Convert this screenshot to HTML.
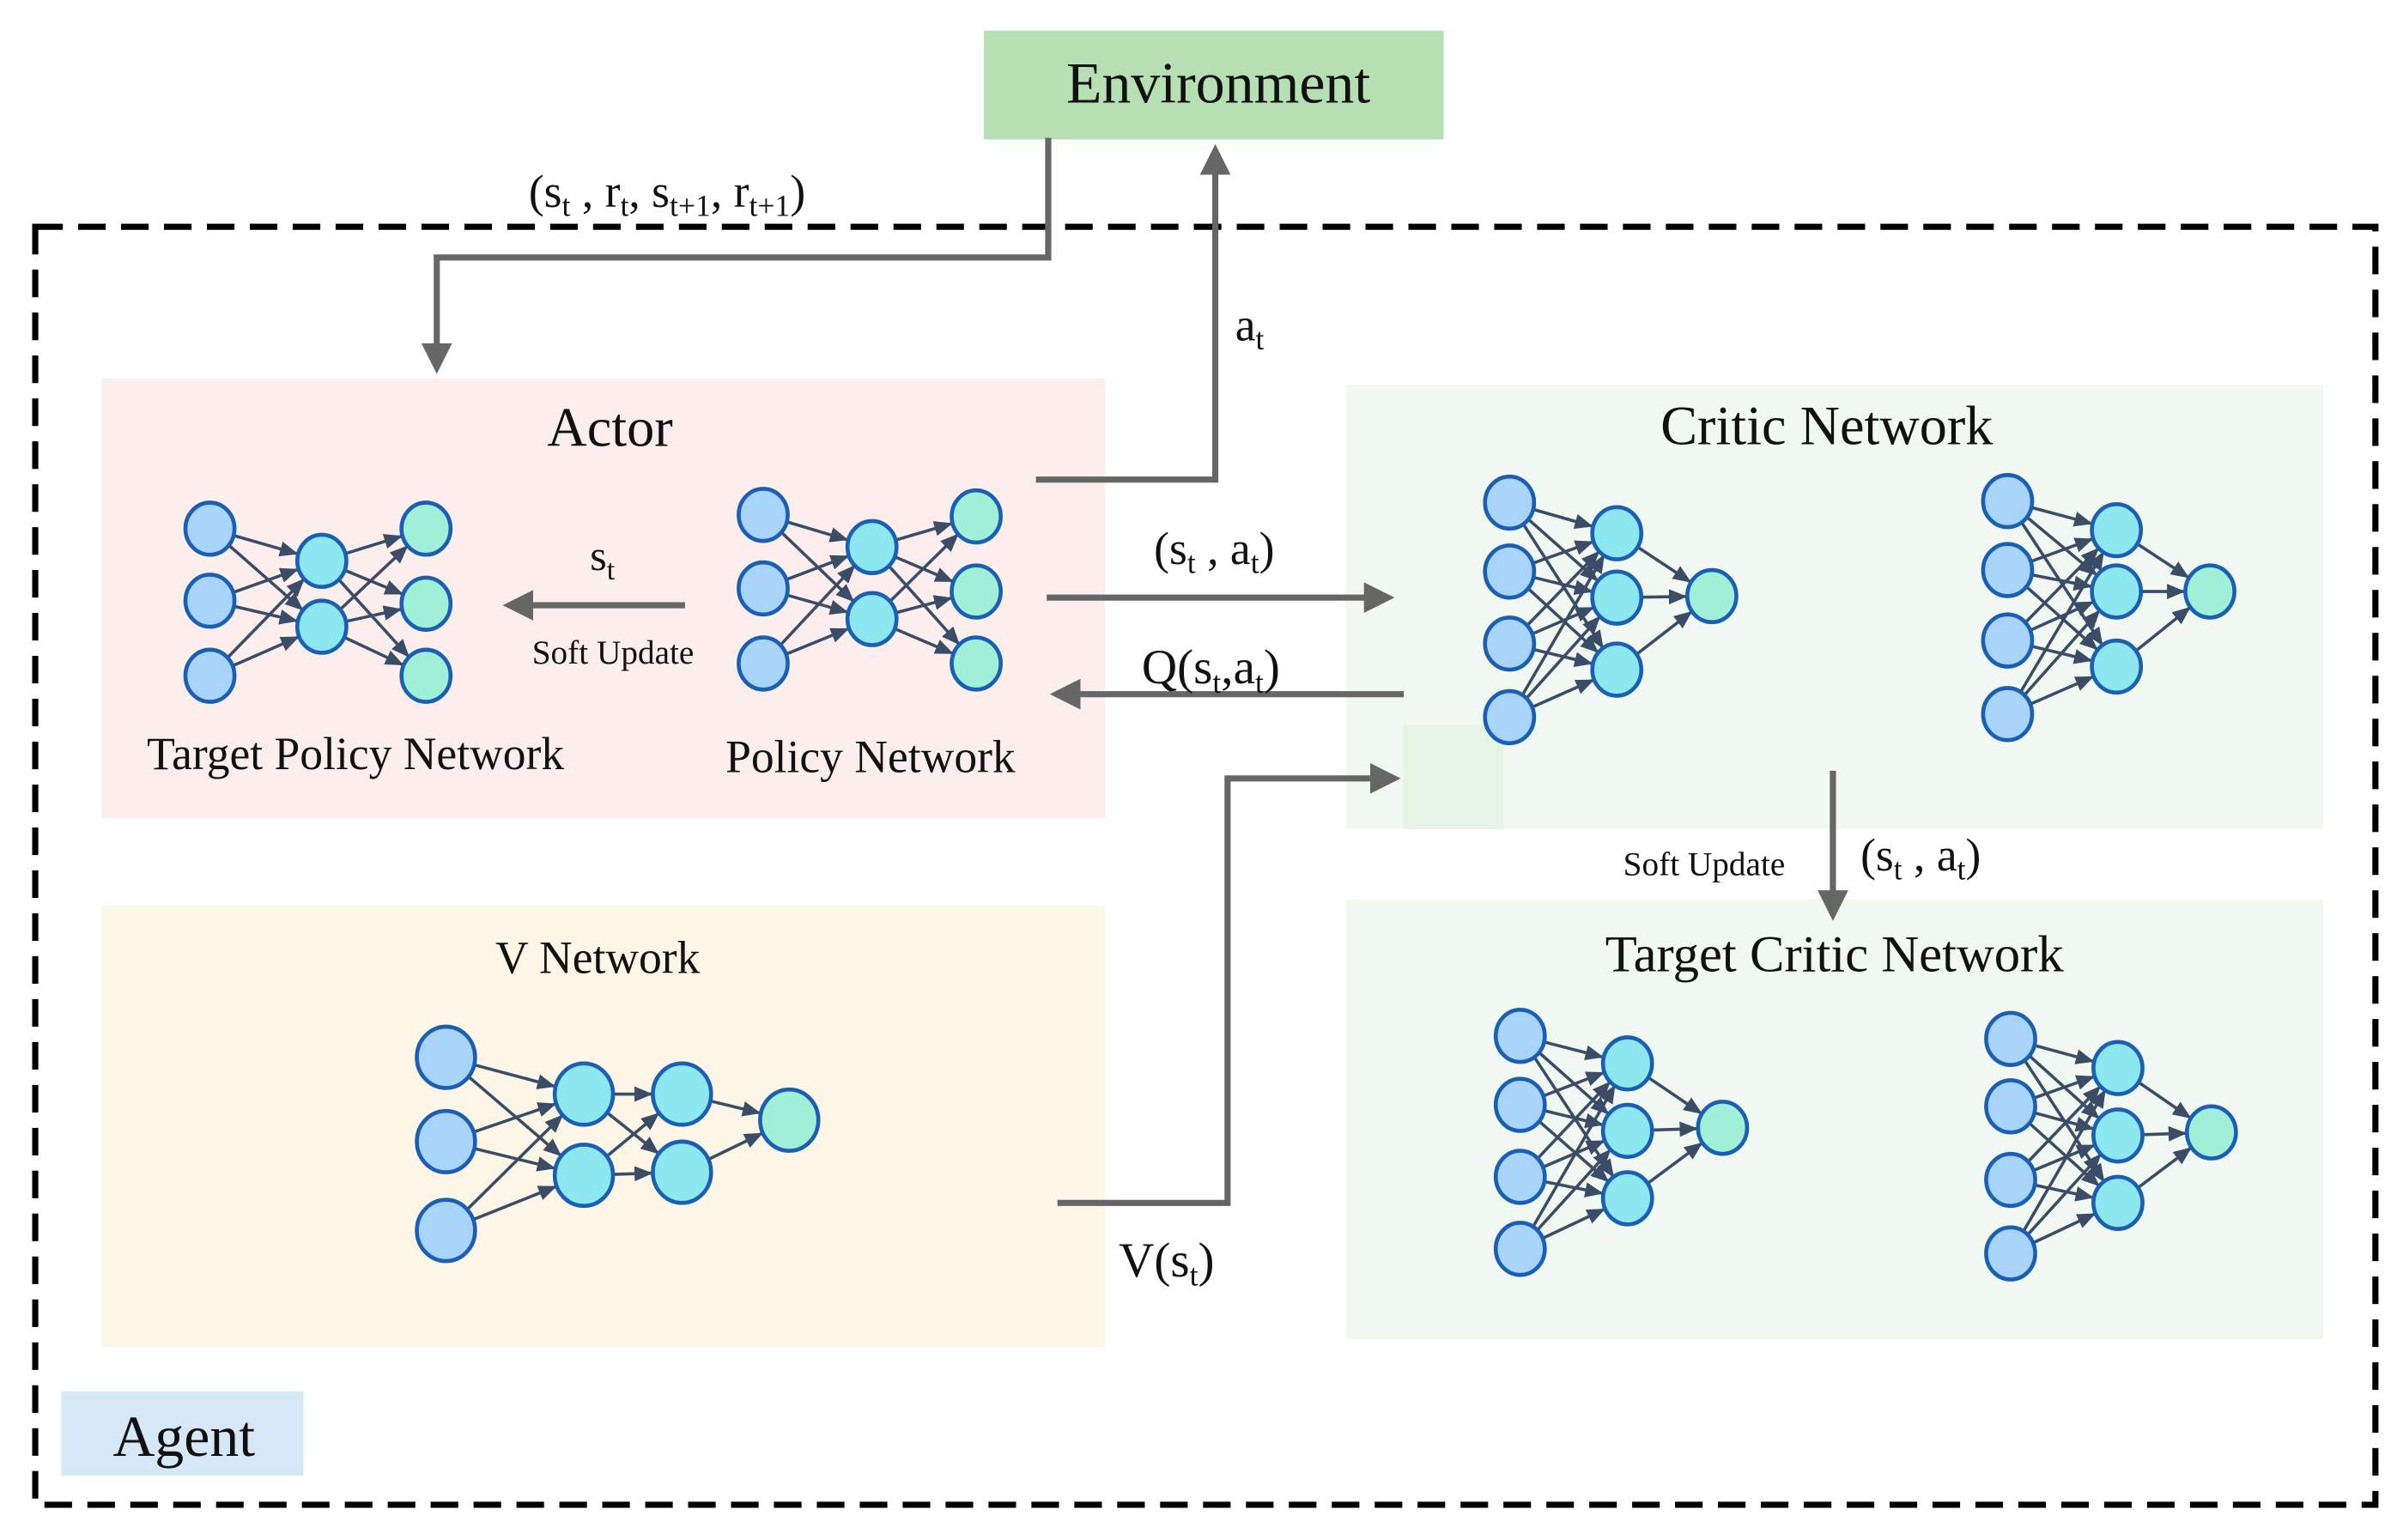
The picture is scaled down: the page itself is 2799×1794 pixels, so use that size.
<!DOCTYPE html>
<html><head><meta charset="utf-8"><style>
html,body{margin:0;padding:0;background:#fff;}
svg{display:block;}
text{font-family:"Liberation Serif",serif;fill:#111;}
</style></head><body>
<svg id="s" width="2799" height="1794" viewBox="0 0 1568 1005" xmlns="http://www.w3.org/2000/svg">
<defs>
<marker id="ga" markerWidth="5" markerHeight="5" refX="4" refY="2.5" orient="auto" markerUnits="strokeWidth"><path d="M0,0 L5,2.5 L0,5 z" fill="#666"/></marker>
<marker id="na" markerWidth="12" markerHeight="10" refX="11" refY="5" orient="auto" markerUnits="userSpaceOnUse"><path d="M0,0 L12,5 L0,10 z" fill="#3b4d66"/></marker>
</defs>
<rect x="642" y="20" width="300" height="71" fill="#b6e0b4"/>
<text x="795" y="67" font-size="38" text-anchor="middle">Environment</text>
<rect x="23" y="148" width="1527" height="834" fill="none" stroke="#000" stroke-width="4" stroke-dasharray="18,10"/>
<rect x="66" y="247" width="655" height="287" fill="#fdeeee"/>
<rect x="878" y="251" width="638" height="290" fill="#f1f8f1"/>
<rect x="916" y="473" width="65" height="68" fill="#e6f4e6"/>
<rect x="878" y="587" width="638" height="287" fill="#f1f8f1"/>
<rect x="66" y="591" width="655" height="288" fill="#fdf6e6"/>
<rect x="40" y="908" width="158" height="55" fill="#d6e8f5"/>
<text x="120" y="950" font-size="38" text-anchor="middle">Agent</text>
<text x="398" y="291" font-size="36" text-anchor="middle">Actor</text>
<text x="1192" y="290" font-size="36" text-anchor="middle">Critic Network</text>
<text x="1197" y="634" font-size="34" text-anchor="middle">Target Critic Network</text>
<text x="390" y="635" font-size="30" text-anchor="middle">V Network</text>
<text x="232" y="502" font-size="30" text-anchor="middle">Target Policy Network</text>
<text x="568" y="504" font-size="30" text-anchor="middle">Policy Network</text>
<g stroke="#666" stroke-width="4" fill="none">
<polyline points="684,90 684,168 285,168 285,240" marker-end="url(#ga)"/>
<polyline points="676,313 793,313 793,98" marker-end="url(#ga)"/>
<line x1="447" y1="395" x2="332" y2="395" marker-end="url(#ga)"/>
<line x1="683" y1="390" x2="906" y2="390" marker-end="url(#ga)"/>
<line x1="916" y1="453" x2="689" y2="453" marker-end="url(#ga)"/>
<polyline points="690,785 801,785 801,508 910,508" marker-end="url(#ga)"/>
<line x1="1196" y1="503" x2="1196" y2="597" marker-end="url(#ga)"/>
</g>
<text x="345" y="135" font-size="30">(s<tspan font-size="20" dy="6">t</tspan><tspan dy="-6"> , r</tspan><tspan font-size="20" dy="6">t</tspan><tspan dy="-6">, s</tspan><tspan font-size="20" dy="6">t+1</tspan><tspan dy="-6">, r</tspan><tspan font-size="20" dy="6">t+1</tspan><tspan dy="-6">)</tspan></text>
<text x="806" y="222" font-size="30">a<tspan font-size="20" dy="6">t</tspan></text>
<text x="385" y="372" font-size="28">s<tspan font-size="19" dy="6">t</tspan></text>
<text x="400" y="433" font-size="22" text-anchor="middle">Soft Update</text>
<text x="753" y="368" font-size="30">(s<tspan font-size="20" dy="6">t</tspan><tspan dy="-6"> , a</tspan><tspan font-size="20" dy="6">t</tspan><tspan dy="-6">)</tspan></text>
<text x="745" y="446" font-size="32">Q(s<tspan font-size="20" dy="6">t</tspan><tspan dy="-6">,a</tspan><tspan font-size="20" dy="6">t</tspan><tspan dy="-6">)</tspan></text>
<text x="730" y="833" font-size="32">V(s<tspan font-size="20" dy="6">t</tspan><tspan dy="-6">)</tspan></text>
<text x="1112" y="571" font-size="22" text-anchor="middle">Soft Update</text>
<text x="1214" y="568" font-size="30">(s<tspan font-size="20" dy="6">t</tspan><tspan dy="-6"> , a</tspan><tspan font-size="20" dy="6">t</tspan><tspan dy="-6">)</tspan></text>
<g id="nets"></g>
</svg>
<script>
var C=['#a8d4fa','#8ce8ee','#a0f0d8'];
var nets=[
 {r:16,L:[[137,[345,392,441]],[210,[366,409]],[278,[345,394,441]]]},
 {r:16,L:[[498,[336,384,433]],[569,[357,404]],[637,[337,386,433]]]},
 {r:16,L:[[985,[328,373,420,468]],[1055,[348,390,437]],[1117,[389]]]},
 {r:16,L:[[1310,[327,372,418,466]],[1381,[346,386,435]],[1442,[386]]]},
 {r:16,L:[[992,[676,721,768,815]],[1062,[694,738,782]],[1124,[736]]]},
 {r:16,L:[[1312,[678,722,770,818]],[1382,[697,741,785]],[1443,[739]]]},
 {r:19,L:[[291,[690,745,803]],[381,[714,767]],[445,[714,765]],[515,[731]]]}
];
var g=document.getElementById('nets'),h='';
nets.forEach(function(n){
 var r=n.r;
 for(var i=0;i<n.L.length-1;i++){var a=n.L[i],b=n.L[i+1];
  a[1].forEach(function(y1){b[1].forEach(function(y2){
   var dx=b[0]-a[0],dy=y2-y1,d=Math.sqrt(dx*dx+dy*dy);
   var x1=a[0]+dx/d*r,yy1=y1+dy/d*r,x2=b[0]-dx/d*(r+1),yy2=y2-dy/d*(r+1);
   h+='<line x1="'+x1+'" y1="'+yy1+'" x2="'+x2+'" y2="'+yy2+'" stroke="#3b4d66" stroke-width="2" marker-end="url(#na)"/>';
  });});}
 n.L.forEach(function(l,i){var c=i==0?C[0]:(i==n.L.length-1?C[2]:C[1]);
  l[1].forEach(function(y){h+='<ellipse cx="'+l[0]+'" cy="'+y+'" rx="'+r+'" ry="'+(r+1)+'" fill="'+c+'" stroke="#1a5fb4" stroke-width="2.6"/>';});});
});
g.innerHTML=h;
</script>
</body></html>
